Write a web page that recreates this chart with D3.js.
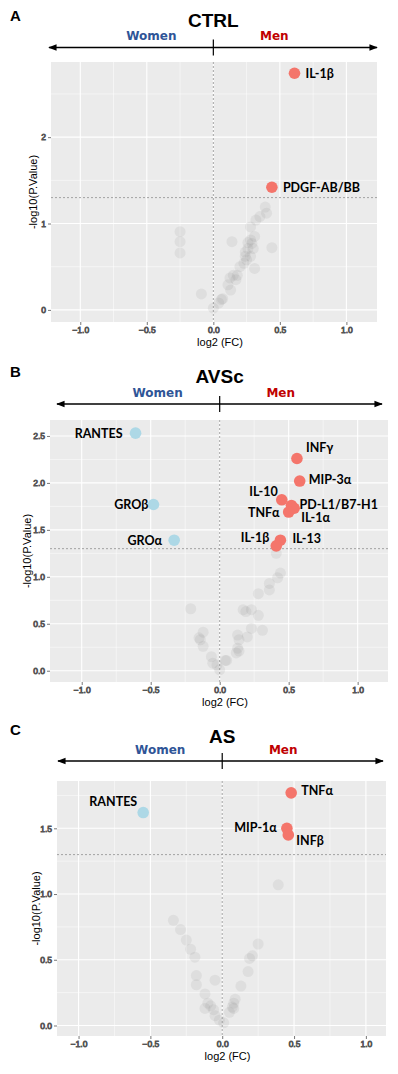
<!DOCTYPE html>
<html>
<head>
<meta charset="utf-8">
<title>Volcano plots</title>
<style>
  body { margin: 0; background: white; }
  .bg { fill: #ebebeb; }
  .grid-major { stroke: white; stroke-width: 1.1; }
  .grid-minor { stroke: white; stroke-width: 0.5; }
  .ref { stroke: #9a9a9a; stroke-width: 0.9; stroke-dasharray: 2,2; }
  .tick { stroke: #555; stroke-width: 0.8; }
  .tick-label { font: 8.5px "Liberation Sans", Arial, sans-serif; fill: #555; }
  .axis-title { font: 11px "Liberation Sans", Arial, sans-serif; fill: black; }
  .letter { font: bold 15px "Liberation Sans", Arial, sans-serif; }
  .title { font: bold 19px "Liberation Sans", Arial, sans-serif; }
  .side { font: bold 12px "DejaVu Sans", sans-serif; }
  .grey { fill: #808080; fill-opacity: 0.12; }
  .hit-label { font: bold 12.5px Lato, "Open Sans", sans-serif; fill: black; }
</style>
</head>
<body>
<svg width="398" height="1074"></svg>
<script src="https://cdn.jsdelivr.net/npm/d3@7"></script>
<script>
const xTicks = [-1.0, -0.5, 0.0, 0.5, 1.0];
const xMinor = [-0.75, -0.25, 0.25, 0.75];
const threshold = 1.3; // -log10(0.05)

// CTRL panel: [log2 FC, -log10 p]
const ctrlGrey = [
  [-0.25, 0.905], [-0.25, 0.79], [-0.25, 0.66], [-0.09, 0.185], [0.0, 0.02],
  [0.04, 0.08], [0.06, 0.12], [0.07, 0.13], [0.13, 0.23], [0.125, 0.37],
  [0.15, 0.40], [0.18, 0.40], [0.17, 0.35], [0.11, 0.29], [0.14, 0.79],
  [0.20, 0.50], [0.23, 0.54], [0.24, 0.67], [0.26, 0.71], [0.26, 0.78],
  [0.28, 0.81], [0.29, 0.77], [0.30, 0.71], [0.31, 0.48], [0.28, 0.62],
  [0.25, 0.58], [0.28, 0.96], [0.32, 1.04], [0.31, 0.85], [0.35, 1.08],
  [0.40, 1.12], [0.39, 1.19], [0.44, 0.72], [0.24, 0.62]
];
const ctrlHits = [
  { name: "IL-1β", fc: 0.61, p: 2.74, sex: "men" },
  { name: "PDGF-AB/BB", fc: 0.44, p: 1.42, sex: "men" }
];
const ctrlYTicks = [0, 1, 2];
const ctrlYMinor = [0.5, 1.5, 2.5];

// AVSc panel
const avscGrey = [
  [0.41, 1.25], [0.44, 1.04], [0.42, 0.99], [0.36, 0.93], [0.36, 0.86],
  [0.28, 0.82], [-0.21, 0.66], [0.17, 0.65], [0.19, 0.63], [0.23, 0.65],
  [0.28, 0.59], [-0.12, 0.41], [-0.15, 0.35], [-0.14, 0.33], [-0.12, 0.26],
  [-0.06, 0.15], [-0.02, 0.06], [0.0, 0.01], [0.04, 0.11], [0.05, 0.11],
  [0.13, 0.38], [0.14, 0.33], [0.13, 0.24], [0.14, 0.21], [0.20, 0.36],
  [0.23, 0.45], [0.31, 0.43], [0.12, 0.19], [-0.05, 0.08]
];
const avscHits = [
  { name: "RANTES", fc: -0.61, p: 2.53, sex: "women" },
  { name: "GROβ", fc: -0.48, p: 1.77, sex: "women" },
  { name: "GROα", fc: -0.33, p: 1.39, sex: "women" },
  { name: "INFγ", fc: 0.56, p: 2.26, sex: "men" },
  { name: "MIP-3α", fc: 0.58, p: 2.02, sex: "men" },
  { name: "IL-10", fc: 0.45, p: 1.82, sex: "men" },
  { name: "PD-L1/B7-H1", fc: 0.52, p: 1.76, sex: "men" },
  { name: "IL-1α", fc: 0.54, p: 1.73, sex: "men" },
  { name: "TNFα", fc: 0.50, p: 1.69, sex: "men" },
  { name: "IL-13", fc: 0.44, p: 1.39, sex: "men" },
  { name: "IL-1β", fc: 0.41, p: 1.33, sex: "men" }
];
const avscYTicks = [0, 0.5, 1.0, 1.5, 2.0, 2.5];
const avscYMinor = [0.25, 0.75, 1.25, 1.75, 2.25];

// AS panel
const asGrey = [
  [0.39, 1.07], [-0.34, 0.80], [-0.29, 0.73], [-0.25, 0.65], [-0.22, 0.58],
  [-0.19, 0.52], [-0.18, 0.38], [-0.18, 0.31], [-0.05, 0.345], [-0.12, 0.24],
  [-0.10, 0.17], [-0.12, 0.13], [-0.08, 0.15], [-0.06, 0.12], [-0.05, 0.075],
  [-0.02, 0.04], [0.01, 0.02], [0.05, 0.10], [0.07, 0.14], [0.08, 0.13],
  [0.09, 0.20], [0.13, 0.30], [0.18, 0.41], [0.19, 0.51], [0.21, 0.53],
  [0.25, 0.62], [0.08, 0.17]
];
const asHits = [
  { name: "TNFα", fc: 0.48, p: 1.77, sex: "men" },
  { name: "RANTES", fc: -0.55, p: 1.62, sex: "women" },
  { name: "MIP-1α", fc: 0.45, p: 1.50, sex: "men" },
  { name: "INFβ", fc: 0.46, p: 1.45, sex: "men" }
];
const asYTicks = [0, 0.5, 1.0, 1.5];
const asYMinor = [0.25, 0.75, 1.25, 1.75];

const colors = { men: "#f4756b", women: "#add8e6" };

// label placement relative to the point (px)
const labelPos = {
  "CTRL:IL-1β": [11, 0, "start"],
  "CTRL:PDGF-AB/BB": [11, 0, "start"],
  "AVSc:RANTES": [-13, 0, "end"],
  "AVSc:GROβ": [-5, 0, "end"],
  "AVSc:GROα": [-12, 0, "end"],
  "AVSc:INFγ": [9, -11, "start"],
  "AVSc:MIP-3α": [9, -1, "start"],
  "AVSc:IL-10": [-4, -8, "end"],
  "AVSc:PD-L1/B7-H1": [8, -1, "start"],
  "AVSc:IL-1α": [7, 9.5, "start"],
  "AVSc:TNFα": [-9, 1, "end"],
  "AVSc:IL-13": [12, -1.5, "start"],
  "AVSc:IL-1β": [-7, -8, "end"],
  "AS:TNFα": [10, -2, "start"],
  "AS:RANTES": [-6, -11, "end"],
  "AS:MIP-1α": [-10, -1, "end"],
  "AS:INFβ": [8, 6, "start"]
};

const panels = [
  { key: "CTRL", letter: "A", grey: ctrlGrey, hits: ctrlHits, yTicks: ctrlYTicks, yMinor: ctrlYMinor,
    fmt: d3.format("d"), box: { l: 51, r: 377, t: 62, b: 322 },
    xDomain: [-1.22, 1.23], yDomain: [-0.14, 2.87],
    letterY: 21, titleY: 27, sideY: 40, arrowY: 47.5, arrowX: [49, 377], ylabX: 33 },
  { key: "AVSc", letter: "B", grey: avscGrey, hits: avscHits, yTicks: avscYTicks, yMinor: avscYMinor,
    fmt: d3.format(".1f"), box: { l: 50, r: 388, t: 420, b: 682 },
    xDomain: [-1.23, 1.22], yDomain: [-0.12, 2.67],
    letterY: 377, titleY: 383, sideY: 397, arrowY: 404, arrowX: [57, 382], ylabX: 27 },
  { key: "AS", letter: "C", grey: asGrey, hits: asHits, yTicks: asYTicks, yMinor: asYMinor,
    fmt: d3.format(".1f"), box: { l: 57, r: 386, t: 781, b: 1036 },
    xDomain: [-1.15, 1.14], yDomain: [-0.08, 1.86],
    letterY: 735, titleY: 743, sideY: 754, arrowY: 761, arrowX: [58, 383], ylabX: 36 }
];

const svg = d3.select("svg");

svg.append("defs").append("marker")
  .attr("id", "head")
  .attr("viewBox", "0 0 10 10")
  .attr("refX", 9).attr("refY", 5)
  .attr("markerWidth", 6).attr("markerHeight", 6)
  .attr("orient", "auto-start-reverse")
  .append("path")
    .attr("d", "M0,1L10,5L0,9Z")
    .attr("fill", "black");

panels.forEach(p => {
  const b = p.box;
  const x = d3.scaleLinear().domain(p.xDomain).range([b.l, b.r]);
  const y = d3.scaleLinear().domain(p.yDomain).range([b.b, b.t]);
  const g = svg.append("g");
  const x0 = x(0);

  // header: letter, title, Women / Men arrow
  g.append("text").attr("class", "letter").attr("x", 10).attr("y", p.letterY).text(p.letter);
  g.append("text").attr("class", "title").attr("x", x0).attr("y", p.titleY)
    .attr("text-anchor", "middle").text(p.key);
  g.append("text").attr("class", "side").attr("x", x0 - 62).attr("y", p.sideY)
    .attr("text-anchor", "middle").attr("fill", "#2f5597").text("Women");
  g.append("text").attr("class", "side").attr("x", x0 + 61).attr("y", p.sideY)
    .attr("text-anchor", "middle").attr("fill", "#c00000").text("Men");
  g.append("line")
    .attr("x1", p.arrowX[0]).attr("x2", p.arrowX[1])
    .attr("y1", p.arrowY).attr("y2", p.arrowY)
    .attr("stroke", "black").attr("stroke-width", 1.4)
    .attr("marker-start", "url(#head)").attr("marker-end", "url(#head)");
  g.append("line")
    .attr("x1", x0).attr("x2", x0)
    .attr("y1", p.arrowY - 8).attr("y2", p.arrowY + 8)
    .attr("stroke", "black").attr("stroke-width", 1.2);

  // panel + grid
  g.append("rect").attr("class", "bg")
    .attr("x", b.l).attr("y", b.t).attr("width", b.r - b.l).attr("height", b.b - b.t);
  g.selectAll(".xminor").data(xMinor).join("line").attr("class", "grid-minor")
    .attr("x1", d => x(d)).attr("x2", d => x(d)).attr("y1", b.t).attr("y2", b.b);
  g.selectAll(".yminor").data(p.yMinor.filter(d => y(d) > b.t)).join("line").attr("class", "grid-minor")
    .attr("y1", d => y(d)).attr("y2", d => y(d)).attr("x1", b.l).attr("x2", b.r);
  g.selectAll(".xmajor").data(xTicks).join("line").attr("class", "grid-major")
    .attr("x1", d => x(d)).attr("x2", d => x(d)).attr("y1", b.t).attr("y2", b.b);
  g.selectAll(".ymajor").data(p.yTicks).join("line").attr("class", "grid-major")
    .attr("y1", d => y(d)).attr("y2", d => y(d)).attr("x1", b.l).attr("x2", b.r);

  // reference lines
  g.append("line").attr("class", "ref")
    .attr("x1", x0).attr("x2", x0).attr("y1", b.t).attr("y2", b.b);
  g.append("line").attr("class", "ref")
    .attr("x1", b.l).attr("x2", b.r).attr("y1", y(threshold)).attr("y2", y(threshold));

  // points
  g.append("g").selectAll("circle").data(p.grey).join("circle")
    .attr("class", "grey")
    .attr("cx", d => x(d[0])).attr("cy", d => y(d[1])).attr("r", 5.5);
  g.append("g").selectAll("circle").data(p.hits).join("circle")
    .attr("cx", d => x(d.fc)).attr("cy", d => y(d.p)).attr("r", 5.8)
    .attr("fill", d => colors[d.sex]);
  g.append("g").selectAll("text").data(p.hits).join("text")
    .attr("class", "hit-label")
    .attr("x", d => x(d.fc) + labelPos[p.key + ":" + d.name][0])
    .attr("y", d => y(d.p) + labelPos[p.key + ":" + d.name][1])
    .attr("dy", "0.35em")
    .attr("text-anchor", d => labelPos[p.key + ":" + d.name][2])
    .text(d => d.name);

  // axes
  const xAxis = d3.axisBottom(x).tickValues(xTicks).tickFormat(d3.format(".1f")).tickSize(3).tickPadding(2);
  const yAxis = d3.axisLeft(y).tickValues(p.yTicks).tickFormat(p.fmt).tickSize(3).tickPadding(2);
  const gx = g.append("g").attr("transform", `translate(0,${b.b})`).call(xAxis);
  const gy = g.append("g").attr("transform", `translate(${b.l},0)`).call(yAxis);
  [gx, gy].forEach(a => {
    a.select(".domain").remove();
    a.selectAll(".tick line").attr("class", "tick");
    a.selectAll(".tick text").attr("class", "tick-label").attr("fill", null);
  });

  g.append("text").attr("class", "axis-title")
    .attr("x", (b.l + b.r) / 2 + 6).attr("y", b.b + 24)
    .attr("text-anchor", "middle").text("log2 (FC)");
  g.append("text").attr("class", "axis-title")
    .attr("transform", `translate(${p.ylabX},${(b.t + b.b) / 2}) rotate(-90)`)
    .attr("text-anchor", "middle").attr("dy", "0.35em").text("-log10(P.Value)");
});
</script>
</body>
</html>
